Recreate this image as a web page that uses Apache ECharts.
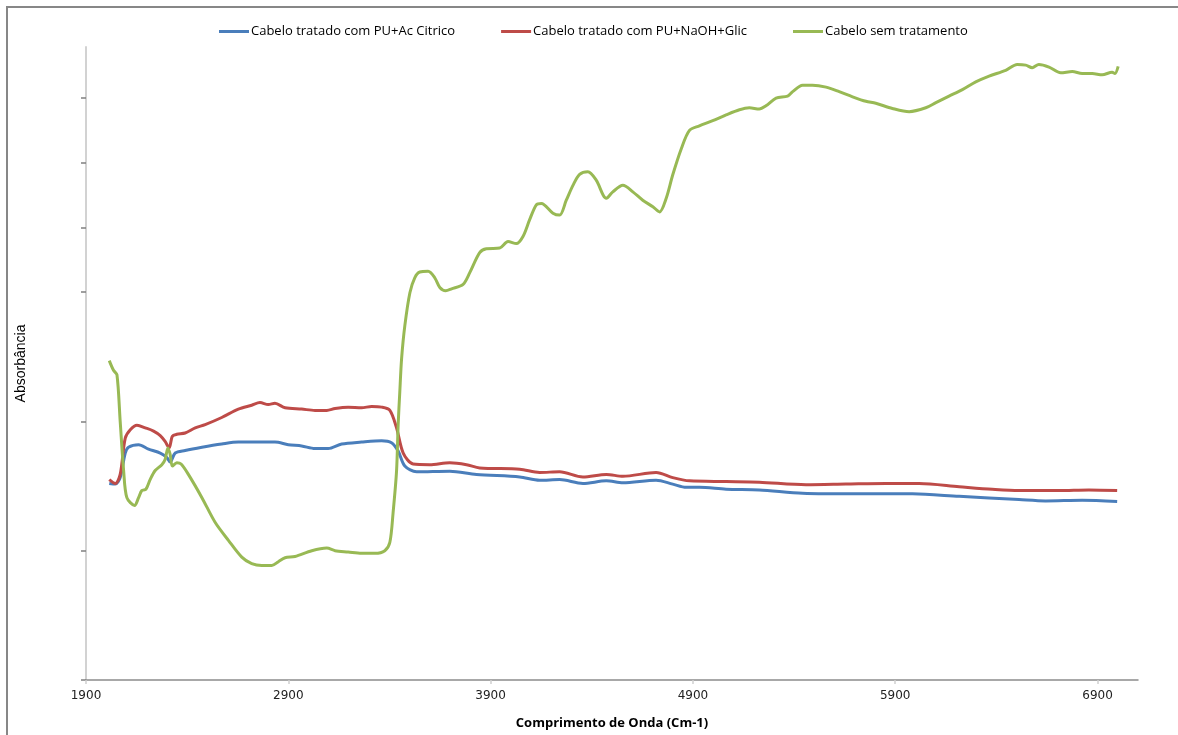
<!DOCTYPE html>
<html>
<head>
<meta charset="utf-8">
<script src="https://cdn.jsdelivr.net/npm/echarts@6/dist/echarts.min.js"></script>
<style>
  html, body { margin: 0; padding: 0; background: #fff; }
  #chart { width: 1178px; height: 735px; }
</style>
</head>
<body>
<div id="chart"></div>
<script>
// FTIR spectra of hair samples: wavenumber (cm-1) vs absorbance (arbitrary units)
const seriesNames = [
  'Cabelo tratado com PU+Ac Citrico',
  'Cabelo tratado com PU+NaOH+Glic',
  'Cabelo sem tratamento'
];
const xTicks = [1900, 2900, 3900, 4900, 5900, 6900];
const yTicks = [0, 20, 40, 60, 70, 80, 90];

const citricoX = [2015, 2045, 2069, 2094, 2110, 2160, 2209, 2267, 2300, 2316, 2341, 2390, 2473, 2571, 2653, 2736, 2834, 2900, 2966, 3032, 3097, 3164, 3262, 3361, 3410, 3443, 3476, 3534, 3698, 3830, 4044, 4142, 4241, 4356, 4472, 4554, 4718, 4800, 4867, 4932, 5064, 5228, 5442, 5722, 5985, 6216, 6512, 6643, 6824, 6997];
const citricoY = [30.4, 30.3, 31.3, 35.1, 36.0, 36.4, 35.7, 35.1, 34.4, 33.7, 35.1, 35.5, 36.0, 36.5, 36.8, 36.8, 36.8, 36.4, 36.2, 35.8, 35.8, 36.5, 36.8, 37.0, 36.7, 35.4, 33.1, 32.2, 32.3, 31.8, 31.4, 30.9, 31.0, 30.4, 30.8, 30.5, 30.9, 30.3, 29.8, 29.8, 29.5, 29.4, 28.9, 28.8, 28.8, 28.4, 27.9, 27.7, 27.8, 27.6];

const naohX = [2015, 2045, 2069, 2094, 2119, 2152, 2193, 2234, 2267, 2291, 2311, 2327, 2349, 2390, 2440, 2489, 2571, 2653, 2719, 2760, 2801, 2834, 2884, 2966, 3032, 3090, 3131, 3196, 3262, 3312, 3361, 3402, 3435, 3468, 3517, 3599, 3698, 3781, 3846, 4044, 4142, 4241, 4356, 4472, 4554, 4718, 4800, 4883, 5064, 5228, 5459, 5656, 5854, 6018, 6216, 6380, 6512, 6709, 6857, 6997];
const naohY = [31.0, 30.4, 31.8, 37.4, 38.7, 39.4, 39.0, 38.5, 37.8, 36.9, 35.9, 37.7, 38.0, 38.2, 39.0, 39.5, 40.6, 41.9, 42.5, 42.9, 42.6, 42.8, 42.1, 41.9, 41.7, 41.7, 42.0, 42.2, 42.1, 42.3, 42.2, 41.7, 39.0, 35.1, 33.4, 33.3, 33.6, 33.3, 32.8, 32.6, 32.1, 32.2, 31.4, 31.8, 31.5, 32.1, 31.3, 30.8, 30.7, 30.6, 30.2, 30.3, 30.4, 30.4, 29.9, 29.5, 29.3, 29.3, 29.4, 29.3];

const semTratX = [2015, 2036, 2053, 2069, 2086, 2102, 2140, 2160, 2176, 2196, 2217, 2242, 2275, 2291, 2305, 2316, 2327, 2349, 2370, 2406, 2473, 2538, 2604, 2670, 2719, 2769, 2818, 2851, 2884, 2933, 3016, 3090, 3131, 3196, 3262, 3328, 3377, 3402, 3418, 3435, 3443, 3451, 3460, 3476, 3501, 3525, 3550, 3591, 3624, 3649, 3678, 3707, 3764, 3797, 3846, 3879, 3945, 3986, 4027, 4060, 4093, 4126, 4151, 4208, 4241, 4274, 4307, 4340, 4381, 4422, 4472, 4504, 4554, 4603, 4652, 4702, 4735, 4768, 4800, 4843, 4883, 4932, 4998, 5064, 5130, 5179, 5228, 5261, 5311, 5368, 5393, 5442, 5491, 5558, 5623, 5689, 5755, 5804, 5886, 5969, 6051, 6101, 6166, 6232, 6298, 6364, 6446, 6503, 6545, 6577, 6610, 6660, 6718, 6775, 6824, 6874, 6923, 6972, 6986, 7002];
const semTratY = [49.4, 47.9, 47.2, 40.0, 32.4, 28.2, 27.0, 28.2, 29.3, 29.5, 31.0, 32.4, 33.3, 34.1, 35.9, 34.9, 33.1, 33.6, 33.4, 31.8, 28.2, 24.4, 21.6, 19.0, 18.0, 17.7, 17.7, 18.3, 18.9, 19.1, 20.0, 20.4, 20.0, 19.8, 19.6, 19.6, 20.0, 21.3, 25.9, 32.3, 39.5, 44.5, 49.7, 54.8, 59.9, 62.2, 63.1, 63.2, 62.2, 60.7, 60.2, 60.5, 61.2, 63.0, 66.1, 66.7, 66.8, 67.8, 67.5, 68.6, 71.2, 73.5, 73.7, 72.2, 71.9, 74.2, 76.5, 78.2, 78.6, 77.3, 74.5, 75.5, 76.5, 75.5, 74.2, 73.2, 72.4, 74.5, 78.1, 82.2, 85.0, 85.7, 86.5, 87.4, 88.2, 88.5, 88.3, 88.8, 90.0, 90.3, 91.0, 92.0, 92.0, 91.7, 91.0, 90.2, 89.5, 89.2, 88.4, 87.9, 88.5, 89.3, 90.3, 91.3, 92.5, 93.4, 94.3, 95.2, 95.1, 94.7, 95.2, 94.8, 93.9, 94.1, 93.8, 93.8, 93.6, 94.0, 93.8, 94.9];

const colors = ['#4A7EBB', '#BE4B48', '#98B954'];

function pairs(xs, ys) {
  return xs.map((x, i) => [x, ys[i]]);
}

const chart = echarts.init(document.getElementById('chart'));

const lineSeries = [
  pairs(citricoX, citricoY),
  pairs(naohX, naohY),
  pairs(semTratX, semTratY)
].map((data, i) => ({
  name: seriesNames[i],
  type: 'line',
  data: data,
  showSymbol: false,
  smooth: 0.3,
  lineStyle: { width: 3, color: colors[i] },
  itemStyle: { color: colors[i] },
  emphasis: { disabled: true },
  z: i === 2 ? 3 : 2
}));

chart.setOption({
  animation: false,
  backgroundColor: '#ffffff',
  color: colors,
  graphic: [{
    type: 'polyline',
    shape: { points: [[7, 740], [7, 7], [1190, 7]] },
    style: { stroke: '#878787', lineWidth: 2, fill: null },
    silent: true
  }],
  legend: {
    top: 20,
    left: 214,
    itemGap: 46,
    itemWidth: 30,
    itemHeight: 3,
    icon: 'rect',
    textStyle: {
      fontFamily: '"Liberation Sans Narrow", "Open Sans", sans-serif',
      fontSize: 13,
      color: '#000',
      padding: [0, 0, 0, -3]
    },
    data: seriesNames
  },
  grid: {
    left: 86,
    right: 40,
    top: 47,
    bottom: 51,
    containLabel: false
  },
  xAxis: {
    type: 'value',
    min: 1900,
    max: 7100,
    name: 'Comprimento de Onda (Cm-1)',
    nameLocation: 'middle',
    nameGap: 37,
    nameTextStyle: {
      fontFamily: '"Liberation Sans Narrow", "Open Sans", sans-serif',
      fontSize: 13,
      fontWeight: 'bold',
      color: '#000'
    },
    axisLine: { show: true, onZero: false, lineStyle: { color: '#8c8c8c', width: 1.5 } },
    axisTick: {
      show: true,
      length: 4,
      customValues: xTicks,
      lineStyle: { color: '#cfcfcf', width: 1.5 }
    },
    axisLabel: {
      customValues: xTicks,
      formatter: (v) => String(v),
      margin: 10,
      fontFamily: '"Liberation Sans Narrow", "DejaVu Sans", sans-serif',
      fontSize: 12,
      color: '#222'
    },
    splitLine: { show: false }
  },
  yAxis: {
    type: 'value',
    min: 0,
    max: 97.9,
    name: 'Absorbância',
    nameLocation: 'middle',
    nameGap: 58,
    nameRotate: 90,
    nameTextStyle: {
      fontFamily: '"Liberation Sans", Arial, sans-serif',
      fontSize: 14,
      color: '#000'
    },
    axisLine: { show: true, onZero: false, lineStyle: { color: '#d2d2d2', width: 2 } },
    axisTick: {
      show: true,
      length: 5,
      inside: false,
      customValues: yTicks,
      lineStyle: { color: '#808080', width: 1.5 }
    },
    axisLabel: { show: false },
    splitLine: { show: false }
  },
  series: lineSeries
});
</script>
</body>
</html>
